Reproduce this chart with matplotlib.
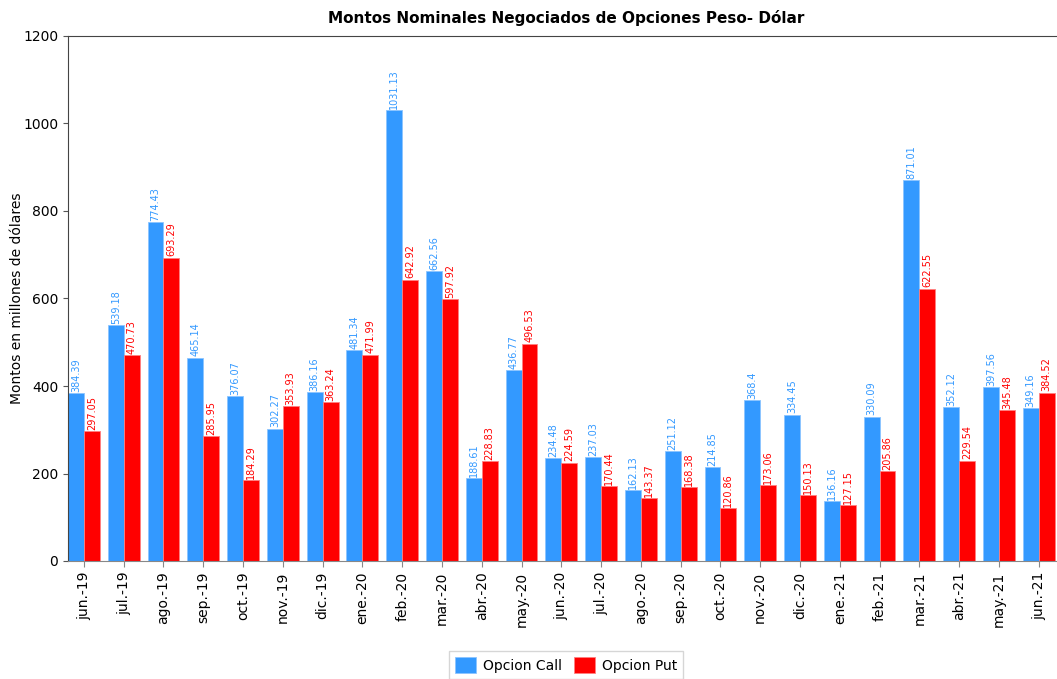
import matplotlib
matplotlib.use('Agg')
import matplotlib.pyplot as plt
import numpy as np

# Monthly notional amounts (millions of USD)
months = ['jun.-19', 'jul.-19', 'ago.-19', 'sep.-19', 'oct.-19', 'nov.-19', 'dic.-19',
          'ene.-20', 'feb.-20', 'mar.-20', 'abr.-20', 'may.-20', 'jun.-20', 'jul.-20',
          'ago.-20', 'sep.-20', 'oct.-20', 'nov.-20', 'dic.-20', 'ene.-21', 'feb.-21',
          'mar.-21', 'abr.-21', 'may.-21', 'jun.-21']
call_values = [384.39, 539.18, 774.43, 465.14, 376.07, 302.27, 386.16, 481.34, 1031.13,
               662.56, 188.61, 436.77, 234.48, 237.03, 162.13, 251.12, 214.85, 368.4,
               334.45, 136.16, 330.09, 871.01, 352.12, 397.56, 349.16]
put_values = [297.05, 470.73, 693.29, 285.95, 184.29, 353.93, 363.24, 471.99, 642.92,
              597.92, 228.83, 496.53, 224.59, 170.44, 143.37, 168.38, 120.86, 173.06,
              150.13, 127.15, 205.86, 622.55, 229.54, 345.48, 384.52]

call_color = '#3399FF'
put_color = '#FF0000'

fig = plt.figure(figsize=(10.57, 6.79), dpi=100)
ax = fig.add_axes([68 / 1057, 118 / 679, 1 - 68 / 1057, 525 / 679])

x = np.arange(len(months))
w = 0.4
bars_call = ax.bar(x - w / 2, call_values, width=w, color=call_color,
                   edgecolor='#8cc4ff', linewidth=0.6, label='Opcion Call')
bars_put = ax.bar(x + w / 2, put_values, width=w, color=put_color,
                  edgecolor='#ff8080', linewidth=0.6, label='Opcion Put')

# value labels above each bar, rotated
for xi, v in zip(x - w / 2, call_values):
    ax.text(xi, v + 3, str(v), rotation=90, ha='center', va='bottom',
            fontsize=7, color=call_color)
for xi, v in zip(x + w / 2, put_values):
    ax.text(xi, v + 3, str(v), rotation=90, ha='center', va='bottom',
            fontsize=7, color=put_color)

ax.set_xlim(-0.4, 24.46)
ax.set_ylim(0, 1200)
ax.set_yticks(range(0, 1201, 200))
ax.set_xticks(x)
ax.set_xticklabels(months, rotation=90, fontsize=10)
ax.tick_params(axis='y', labelsize=10, color='#555555')
ax.tick_params(axis='x', color='#888888', length=4)

for side in ['top', 'left']:
    ax.spines[side].set_color('#444444')
ax.spines['bottom'].set_color('#888888')
ax.spines['right'].set_visible(False)

ax.set_ylabel('Montos en millones de dólares', fontsize=10)
ax.yaxis.set_label_coords(-0.044, 0.5)
fig.text(566 / 1057, 1 - 18 / 679, 'Montos Nominales Negociados de Opciones Peso- Dólar',
         ha='center', va='center', fontsize=11, fontweight='bold')

fig.legend(handles=[bars_call, bars_put], loc='center',
           bbox_to_anchor=(566 / 1057, 1 - 665 / 679), ncol=2, fontsize=10,
           frameon=True, fancybox=False, edgecolor='#cccccc',
           handlelength=1.5, handleheight=1.4, columnspacing=0.9, handletextpad=0.5)

plt.savefig('out.png', dpi=100)
plt.close()
